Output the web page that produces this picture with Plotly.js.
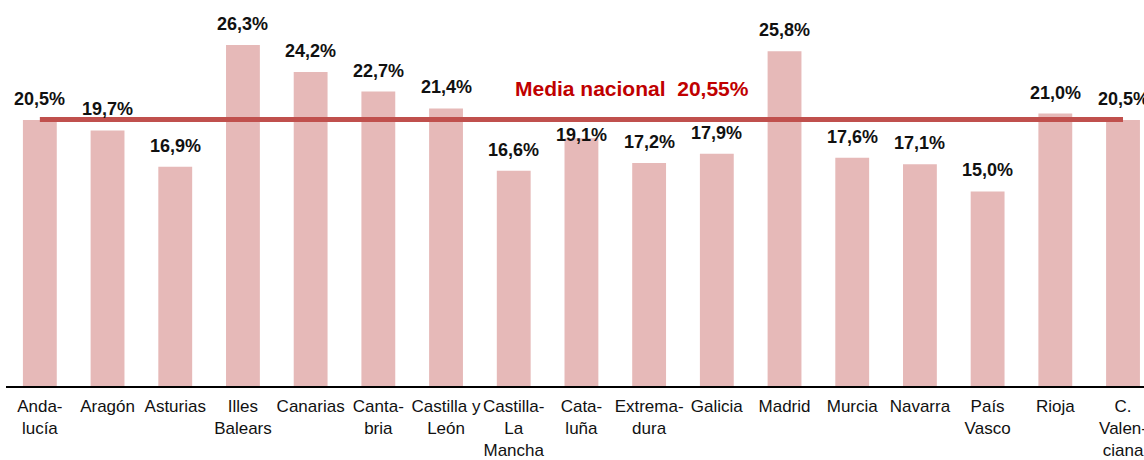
<!DOCTYPE html>
<html>
<head>
<meta charset="utf-8">
<script src="https://cdn.plot.ly/plotly-3.0.1.min.js"></script>
<style>html,body{margin:0;padding:0;background:#fff;overflow:hidden;}</style>
</head>
<body>
<div id="chart" style="width:1144px;height:460px;"></div>
<script>
const categories = ["Anda-<br>lucía", "Aragón", "Asturias", "Illes<br>Balears", "Canarias", "Canta-<br>bria", "Castilla y<br>León", "Castilla-<br>La<br>Mancha", "Cata-<br>luña", "Extrema-<br>dura", "Galicia", "Madrid", "Murcia", "Navarra", "País<br>Vasco", "Rioja", "C.<br>Valen-<br>ciana"];
const values = [20.5, 19.7, 16.9, 26.3, 24.2, 22.7, 21.4, 16.6, 19.1, 17.2, 17.9, 25.8, 17.6, 17.1, 15.0, 21.0, 20.5];
const mediaNacional = 20.55;
const mediaLabel = "Media nacional\u00a0 20,55%";

const fmt = v => v.toFixed(1).replace('.', ',') + '%';
const font = "Liberation Sans, Arial, sans-serif";

const bars = {
  type: 'bar', x: categories, y: values, width: 0.5,
  marker: {color: '#e6b9b8', line: {width: 0}},
  hoverinfo: 'skip', showlegend: false
};
const meanLine = {
  type: 'scatter', mode: 'lines',
  x: [categories[0], categories[categories.length - 1]],
  y: [mediaNacional, mediaNacional],
  line: {color: '#c0504d', width: 5},
  hoverinfo: 'skip', showlegend: false, cliponaxis: false
};

// labels that would collide with the national-average line are moved below it
const annotations = categories.map((c, i) => {
  const gap = mediaNacional - values[i];
  const collides = gap > 1.0 && gap < 2.0;
  return {
    x: c, y: values[i], xref: 'x', yref: 'y',
    text: '<b>' + fmt(values[i]) + '</b>', showarrow: false,
    yanchor: 'bottom', yshift: collides ? -9 : 9,
    font: {family: font, size: 18, color: '#111111'}
  };
});
annotations.push({
  x: 0.55, xref: 'paper', y: 22.94, yref: 'y', yanchor: 'middle',
  text: '<b>' + mediaLabel + '</b>', showarrow: false,
  font: {family: font, size: 21, color: '#c00000'}
});

const layout = {
  width: 1144, height: 460,
  margin: {l: 6, r: 0, t: 0, b: 74, pad: 0},
  paper_bgcolor: '#ffffff', plot_bgcolor: '#ffffff',
  xaxis: {
    type: 'category', range: [-0.5, 16.31],
    showline: true, linecolor: '#000000', linewidth: 1.5,
    ticks: '', showgrid: false, zeroline: false,
    tickfont: {family: font, size: 17, color: '#111111'},
    ticklabelstandoff: 4,
    tickangle: 0, automargin: false
  },
  yaxis: {
    range: [0, 29.76], visible: false, showgrid: false, zeroline: false
  },
  annotations: annotations,
  bargap: 0.5
};

Plotly.newPlot('chart', [bars, meanLine], layout, {staticPlot: true, displayModeBar: false});
</script>
</body>
</html>
